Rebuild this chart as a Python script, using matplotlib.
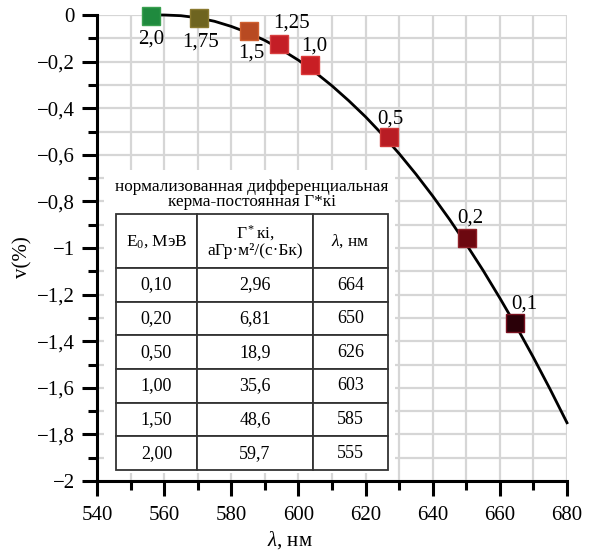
import matplotlib
matplotlib.use("Agg")
import matplotlib.pyplot as plt
from matplotlib.patches import Rectangle
from matplotlib.ticker import MultipleLocator, FuncFormatter

plt.rcParams['font.family'] = ['Liberation Serif', 'DejaVu Serif']
plt.rcParams['mathtext.fontset'] = 'custom'
plt.rcParams['mathtext.rm'] = 'Liberation Serif'
plt.rcParams['mathtext.it'] = 'Liberation Serif:italic'

# curve
curve_x = [555, 560, 565, 570, 575, 580, 585, 590, 595, 600, 605, 610, 615, 620,
           625, 630, 635, 640, 645, 650, 655, 660, 665, 670, 675, 680]
curve_y = [0.0, 0.0, -0.003, -0.012, -0.027, -0.049, -0.076, -0.109, -0.149, -0.194,
           -0.246, -0.304, -0.368, -0.437, -0.513, -0.595, -0.683, -0.777, -0.877,
           -0.984, -1.096, -1.215, -1.339, -1.470, -1.607, -1.750]

# markers
energies = ['2,0', '1,75', '1,5', '1,25', '1,0', '0,5', '0,2', '0,1']
marker_x = [556, 570.4, 585.4, 594.3, 603.3, 626.9, 650.1, 664.5]
marker_y = [-0.004, -0.013, -0.069, -0.124, -0.215, -0.524, -0.957, -1.322]
marker_colors = ['#1f8a3e', '#6e6420', '#b84a22', '#c41e26', '#c81e24', '#b81c24', '#6c0810', '#2a0008']
marker_edges = ['#3aa050', '#8a7a30', '#d06030', '#d84040', '#dc3a3a', '#d03838', '#902028', '#7a1020']
label_offsets = [(0, -16.5), (1, -17), (1, -15.5), (8.5, 15), (3.6, 14), (1, 13.3), (2.5, 14), (6.5, 13.7)]

# table
table_title = 'нормализованная дифференциальная\nкерма-постоянная Г*кі'
col_headers = ['E$_0$, МэВ', 'Г$^*$кі,\naГр·м²/(с·Бк)', '$\\lambda$, нм']
e0_values = ['0,10', '0,20', '0,50', '1,00', '1,50', '2,00']
gamma_values = ['2,96', '6,81', '18,9', '35,6', '48,6', '59,7']
lambda_values = ['664', '650', '626', '603', '585', '555']

fig = plt.figure(figsize=(5.95, 5.52), dpi=100)
ax = fig.add_axes([97/595, 1-481/552, 470/595, 466/552])

ax.set_xlim(540, 680)
ax.set_ylim(-2, 0)
ax.xaxis.set_major_locator(MultipleLocator(20))
ax.xaxis.set_minor_locator(MultipleLocator(10))
ax.yaxis.set_major_locator(MultipleLocator(0.2))
ax.yaxis.set_minor_locator(MultipleLocator(0.1))

def yfmt(v, pos):
    s = ('%.1f' % v).rstrip('0').rstrip('.')
    if s in ('-0', '0'):
        return '0'
    return s.replace('-', '\u2212').replace('.', ',')

ax.yaxis.set_major_formatter(FuncFormatter(yfmt))
ax.xaxis.set_major_formatter(FuncFormatter(lambda v, p: '%d' % v))

ax.grid(True, which='both', color='#d6d6d6', lw=1.6)
ax.set_axisbelow(True)
for s in ['top', 'right']:
    ax.spines[s].set_visible(False)
for s in ['left', 'bottom']:
    ax.spines[s].set_linewidth(2.2)
ax.tick_params(which='major', direction='out', length=11, width=2.2, labelsize=15, pad=5)
ax.tick_params(axis='x', which='major', pad=7)
ax.tick_params(which='minor', direction='out', length=6.5, width=2.2)

ax.set_xlabel('$\\lambda$, нм', fontsize=15, va='center')
ax.xaxis.set_label_coords(0.41, -0.127)
ax.set_ylabel('v(%)', fontsize=15)
ax.yaxis.set_label_coords(-0.138, 0.48)

ax.plot(curve_x, curve_y, color='black', lw=2, zorder=3, clip_on=False)
for x, y, c, ec, lab, off in zip(marker_x, marker_y, marker_colors, marker_edges, energies, label_offsets):
    ax.plot([x], [y], marker='s', ms=12.5, mfc=c, mec=ec, mew=1, zorder=4, clip_on=False)
    ax.annotate(lab, (x, y), xytext=off, textcoords='offset points', ha='center', va='center',
                fontsize=15, zorder=5)

# white inset box
ax.add_patch(Rectangle((0.015, 0.017), 0.619, 0.65, transform=ax.transAxes,
                       facecolor='white', edgecolor='none', zorder=2))
ax.text(0.330, 0.615, table_title, transform=ax.transAxes, ha='center', va='center',
        fontsize=12.4, linespacing=0.95, zorder=6)

cell_text = [list(r) for r in zip(e0_values, gamma_values, lambda_values)]
tbl = ax.table(cellText=cell_text, colLabels=col_headers, cellLoc='center',
               colWidths=[81, 116, 75], bbox=[0.0404, 0.0236, 0.5787, 0.5493], zorder=6)
tbl.auto_set_font_size(False)
tbl.set_fontsize(13)
for (r, c), cell in tbl.get_celld().items():
    cell.set_linewidth(1.3)
    cell.set_edgecolor('#333333')
    cell.set_height(54 if r == 0 else 33.5)
    cell.set_width([81, 116, 75][c])
    cell.set_zorder(6)
    if r == 0:
        cell.get_text().set_linespacing(1.0)
        cell.get_text().set_fontsize(12.5)

fig.savefig('out.png', dpi=100)
